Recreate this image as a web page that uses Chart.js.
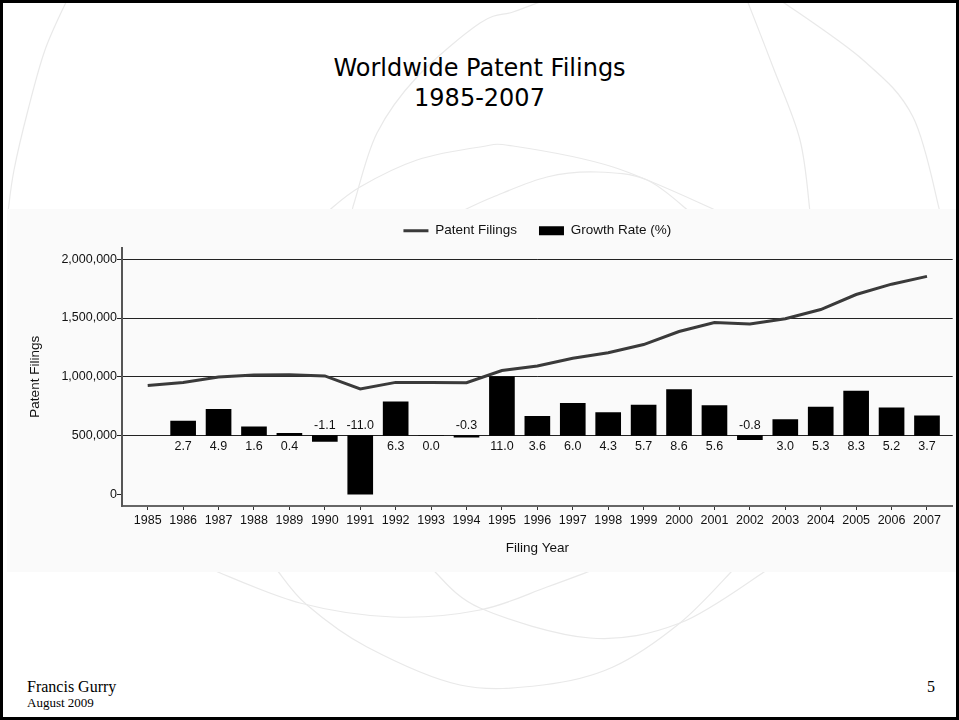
<!DOCTYPE html>
<html>
<head>
<meta charset="utf-8">
<title>Worldwide Patent Filings 1985-2007</title>
<script src="https://cdn.jsdelivr.net/npm/chart.js@4.4.1/dist/chart.umd.min.js"></script>
<style>
  html, body { margin:0; padding:0; background:#fff; }
  #slide { position:relative; width:959px; height:720px; overflow:hidden; background:#fff; }
  #arcs { position:absolute; left:0; top:0; }
  #panel { position:absolute; left:7px; top:209px; width:949px; height:363px; background:#fafafa; }
  #chartBox { position:absolute; left:7px; top:202px; width:948px; height:370px; }
  #title { position:absolute; left:0; top:53px; width:959px; text-align:center;
           font:24px/30px "DejaVu Sans", Verdana, sans-serif; color:#000; }
  .foot { position:absolute; font-family:"Liberation Serif", "Times New Roman", serif; color:#000; white-space:nowrap; }
  #frame { position:absolute; left:0; top:0; width:959px; height:720px; border:3px solid #000;
           box-sizing:border-box; pointer-events:none; }
</style>
</head>
<body>
<div id="slide">
  <svg id="arcs" width="959" height="720"></svg>
  <div id="panel"></div>
  <div id="title">Worldwide Patent Filings<br>1985-2007</div>
  <div id="chartBox"><canvas id="patentChart"></canvas></div>
  <div class="foot" style="left:27px;top:678px;font-size:16px;line-height:18px;">Francis Gurry</div>
  <div class="foot" style="left:27px;top:696px;font-size:13px;line-height:14px;">August 2009</div>
  <div class="foot" style="left:927px;top:678px;font-size:16px;line-height:18px;">5</div>
  <div id="frame"></div>
</div>
<script>
// data
const years   = [1985, 1986, 1987, 1988, 1989, 1990, 1991, 1992, 1993, 1994, 1995, 1996,
                 1997, 1998, 1999, 2000, 2001, 2002, 2003, 2004, 2005, 2006, 2007];
const filings = [926000, 951000, 998000, 1014000, 1018000, 1007000, 896000, 952000, 952000, 949000, 1053000, 1091000,
                 1157000, 1204000, 1274000, 1385000, 1462000, 1450000, 1493000, 1572000, 1700000, 1788000, 1854000];
const growth  = [null, 2.7, 4.9, 1.6, 0.4, -1.1, -11.0, 6.3, 0.0, -0.3, 11.0, 3.6,
                 6.0, 4.3, 5.7, 8.6, 5.6, -0.8, 3.0, 5.3, 8.3, 5.2, 3.7];
const yTicks  = [0, 500000, 1000000, 1500000, 2000000];

const FONT = "'Liberation Sans', Arial, sans-serif";
const LINE_COLOR = '#3a3a3a';

// faint decorative circles of the slide template
const arcs = [
  [[67,0],[45,50],[28,110],[14,170],[8,212]],
  [[545,0],[513,12],[480,23],[417,77],[377,133],[355,200],[352,212]],
  [[327,212],[360,187],[417,160],[480,147],[513,146],[613,167],[720,212]],
  [[460,212],[493,197],[547,177],[597,172],[647,180],[690,212]],
  [[747,0],[773,67],[800,140],[810,212]],
  [[780,0],[863,60],[913,117],[940,212]],
  [[213,570],[300,603],[393,617],[480,610],[547,587],[593,570]],
  [[277,570],[307,605],[367,647],[460,685],[543,685],[613,667],[680,623],[733,570]],
  [[433,570],[480,608],[590,638],[680,623],[767,570]]
];
function smoothPath(pts){
  let d = 'M' + pts[0][0] + ',' + pts[0][1];
  for (let i = 0; i < pts.length - 1; i++){
    const p0 = pts[i-1] || pts[i], p1 = pts[i], p2 = pts[i+1], p3 = pts[i+2] || p2;
    const c1x = p1[0] + (p2[0]-p0[0])/6, c1y = p1[1] + (p2[1]-p0[1])/6;
    const c2x = p2[0] - (p3[0]-p1[0])/6, c2y = p2[1] - (p3[1]-p1[1])/6;
    d += ' C' + c1x + ',' + c1y + ' ' + c2x + ',' + c2y + ' ' + p2[0] + ',' + p2[1];
  }
  return d;
}
document.getElementById('arcs').innerHTML = arcs.map(a =>
  `<path d="${smoothPath(a)}" fill="none" stroke="#e9e9e9" stroke-width="1.2"/>`).join('');

// left axis bounds; growth axis is hidden and lined up so 0% sits on 500,000 and 11% on 1,000,000
const Y_MIN = -100000, Y_MAX = 2100000;
const PER_PCT = 500000 / 11;

// centre the legend over the plot area, not the whole canvas
const legendOverPlot = {
  id: 'legendOverPlot',
  afterLayout(chart){
    const l = chart.legend, a = chart.chartArea;
    if (!l) return;
    l.left = a.left; l.right = a.right; l.width = a.right - a.left;
  }
};

// growth labels: under the baseline for gains, over it for falls
const barLabels = {
  id: 'barLabels',
  afterDatasetsDraw(chart){
    const ctx = chart.ctx;
    const meta = chart.getDatasetMeta(1);
    const base = chart.scales.y2.getPixelForValue(0);
    ctx.save();
    ctx.font = '12.5px ' + FONT;
    ctx.fillStyle = '#111';
    ctx.textAlign = 'center';
    ctx.textBaseline = 'middle';
    meta.data.forEach((el, i) => {
      const v = growth[i];
      if (v == null) return;
      ctx.fillText(v.toFixed(1), el.x, v < 0 ? base - 10 : base + 11);
    });
    ctx.restore();
  }
};

Chart.defaults.font.family = FONT;
Chart.defaults.color = '#111';

new Chart(document.getElementById('patentChart'), {
  data: {
    datasets: [
      {
        type: 'line',
        label: 'Patent Filings',
        data: years.map((y, i) => ({x: y, y: filings[i]})),
        yAxisID: 'y',
        borderColor: LINE_COLOR,
        backgroundColor: LINE_COLOR,
        borderWidth: 3,
        pointRadius: 0,
        tension: 0,
        order: 0
      },
      {
        type: 'bar',
        label: 'Growth Rate (%)',
        data: years.map((y, i) => ({x: y, y: growth[i]})),
        yAxisID: 'y2',
        backgroundColor: '#000',
        borderWidth: 0,
        barThickness: 25,
        order: 1
      }
    ]
  },
  options: {
    responsive: true,
    maintainAspectRatio: false,
    animation: false,
    layout: { padding: { left: 0, right: 2.3, top: 0, bottom: 0 } },
    plugins: {
      tooltip: { enabled: false },
      legend: {
        position: 'top',
        labels: {
          usePointStyle: true,
          pointStyleWidth: 25,
          boxHeight: 9,
          padding: 22,
          color: '#111',
          font: { size: 13.5 },
          generateLabels: () => [
            { text: 'Patent Filings', pointStyle: 'line', strokeStyle: LINE_COLOR, fillStyle: LINE_COLOR,
              lineWidth: 3, fontColor: '#111', datasetIndex: 0 },
            { text: 'Growth Rate (%)', pointStyle: 'rect', strokeStyle: '#000', fillStyle: '#000',
              lineWidth: 0, fontColor: '#111', datasetIndex: 1 }
          ]
        }
      }
    },
    scales: {
      x: {
        type: 'linear',
        offset: false,
        min: 1984.274,
        max: 2007.726,
        afterBuildTicks: s => { s.ticks = years.map(v => ({value: v})); },
        afterFit: s => { s.height = 66; },
        ticks: { autoSkip: false, maxRotation: 0, padding: 3, font: { size: 12.5 }, color: '#111',
                 callback: v => String(v) },
        grid: { offset: false, drawOnChartArea: false, tickLength: 4, tickColor: '#333' },
        border: { color: '#666', width: 2 },
        title: { display: true, text: 'Filing Year', font: { size: 13.5 }, color: '#111',
                 padding: { top: 0, bottom: 16 } }
      },
      y: {
        position: 'left',
        min: Y_MIN,
        max: Y_MAX,
        afterBuildTicks: s => { s.ticks = yTicks.map(v => ({value: v})); },
        afterFit: s => { s.width = 115; },
        ticks: { padding: 0, font: { size: 12.5 }, color: '#111',
                 callback: v => Number(v).toLocaleString('en-US') },
        grid: {
          color: c => (c.tick && c.tick.value === 0) ? 'rgba(0,0,0,0)' : '#222',
          tickColor: '#222',
          tickLength: 5,
          lineWidth: 1
        },
        border: { color: '#555', width: 2 },
        title: { display: true, text: 'Patent Filings', font: { size: 13.5 }, color: '#111',
                 padding: { top: 20, bottom: 0 } }
      },
      y2: {
        display: false,
        min: (Y_MIN - 500000) / PER_PCT,
        max: (Y_MAX - 500000) / PER_PCT
      }
    }
  },
  plugins: [legendOverPlot, barLabels]
});
</script>
</body>
</html>
